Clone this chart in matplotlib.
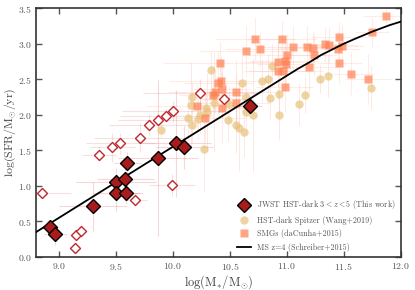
import numpy as np
import matplotlib
matplotlib.use("Agg")
import matplotlib.pyplot as plt

plt.rcParams['font.family'] = 'serif'
plt.rcParams['font.serif'] = ['cmr10']
plt.rcParams['mathtext.fontset'] = 'cm'
plt.rcParams['axes.formatter.use_mathtext'] = True

# JWST HST-dark 3<z<5 (filled diamonds)
jwst_m = [8.92, 8.97, 9.30, 9.50, 9.50, 9.58, 9.59, 9.60, 9.87, 10.03, 10.10, 10.68]
jwst_sfr = [0.42, 0.32, 0.71, 1.05, 0.90, 1.09, 0.90, 1.32, 1.39, 1.60, 1.54, 2.13]
jwst_xerr = [0.08, 0.10, 0.30, 0.35, 0.20, 0.25, 0.15, 0.12, 0.35, 0.30, 0.25, 0.10]
jwst_yerr = [0.10, 0.15, 0.35, 0.20, 0.25, 0.20, 0.15, 0.15, 1.10, 0.75, 0.30, 0.10]

# other redshift candidates (open diamonds)
open_m = [8.855, 9.15, 9.195, 9.14, 9.35, 9.47, 9.54, 9.67, 9.99, 9.71, 9.79,
          9.87, 9.94, 10.00, 10.24, 10.45]
open_sfr = [0.90, 0.31, 0.37, 0.13, 1.44, 1.54, 1.60, 0.80, 1.01, 1.68, 1.86,
            1.92, 1.98, 2.05, 2.30, 2.22]
open_xerr = [0.25, 0.05, 0.06, 0.05, 0.15, 0.20, 0.30, 0.10, 0.20, 0.40, 0.35,
             0.35, 0.40, 0.45, 0.50, 0.20]
open_yerr = [0.05, 0.08, 0.10, 0.05, 0.10, 0.20, 0.15, 0.10, 0.15, 0.20, 0.15,
             0.10, 0.10, 0.15, 0.20, 0.15]

# HST-dark Spitzer (Wang+2019)
wang_m = [9.90, 10.13, 10.17, 10.17, 10.16, 10.22, 10.24, 10.29, 10.30, 10.33,
          10.27, 10.36, 10.36, 10.49, 10.48, 10.55, 10.58, 10.62, 10.64, 10.64,
          10.61, 10.70, 10.78, 10.83, 10.87, 10.85, 10.93, 10.93, 11.11, 11.16,
          11.29, 11.36, 11.74]
wang_sfr = [1.78, 1.95, 1.85, 2.25, 2.14, 1.94, 1.99, 2.10, 2.04, 2.63,
            1.52, 2.28, 2.17, 2.15, 1.93, 1.86, 1.81, 1.76, 2.04, 2.25,
            2.44, 2.00, 2.48, 2.50, 2.69, 2.23, 2.29, 2.00, 2.15, 2.28,
            2.50, 2.55, 2.38]
wang_yerr = [0.10, 0.30, 0.25, 0.20, 0.60, 0.30, 0.25, 0.20, 0.55, 0.25,
             0.60, 0.20, 0.70, 0.25, 0.30, 0.40, 0.60, 0.35, 0.30, 0.25,
             0.40, 0.80, 0.30, 0.35, 0.30, 0.30, 0.25, 0.35, 0.30, 0.25,
             0.20, 0.30, 0.30]

# SMGs (daCunha+2015)
smg_m = [10.21, 10.28, 10.355, 10.37, 10.40, 10.42, 10.43, 10.43, 10.41, 10.55,
         10.55, 10.64, 10.72, 10.76, 10.92, 10.92, 10.97, 10.98, 10.99, 11.005,
         10.96, 10.98, 11.05, 11.18, 11.23, 11.24, 11.19, 11.335, 11.37, 11.46,
         11.48, 11.445, 11.46, 11.56, 11.71, 11.75, 11.87]
smg_sfr = [2.12, 1.96, 2.28, 2.32, 2.45, 2.48, 2.36, 2.10, 2.73, 2.32,
           2.17, 2.90, 3.07, 2.92, 2.745, 2.62, 2.615, 2.755, 2.71, 2.84,
           3.07, 2.385, 2.95, 2.95, 2.935, 2.84, 2.665, 2.99, 2.98, 3.10,
           2.965, 2.92, 2.73, 2.58, 2.50, 3.16, 3.39]
smg_xerr = [0.45, 0.35, 0.30, 0.40, 0.30, 0.45, 0.25, 0.30, 0.50, 0.35,
            0.30, 0.40, 0.35, 0.30, 0.30, 0.25, 0.35, 0.30, 0.25, 0.35,
            0.30, 0.25, 0.30, 0.25, 0.30, 0.20, 0.25, 0.20, 0.25, 0.25,
            0.20, 0.20, 0.20, 0.20, 0.20, 0.15, 0.20]
smg_yerr = [0.30, 0.35, 0.40, 0.30, 0.45, 0.35, 0.40, 0.50, 0.30, 0.45,
            0.40, 0.35, 0.30, 0.25, 0.35, 0.40, 0.30, 0.35, 0.30, 0.30,
            0.25, 0.35, 0.30, 0.30, 0.25, 0.30, 0.35, 0.25, 0.25, 0.20,
            0.30, 0.25, 0.30, 0.30, 0.35, 0.20, 0.15]

# MS z=4 (Schreiber+2015)
ms_m = [8.8, 9.5, 10.0, 10.5, 11.1, 11.2, 11.3, 11.4, 11.5, 11.6, 11.75, 11.9, 12.0]
ms_sfr = [0.35, 1.05, 1.55, 2.05, 2.65, 2.74, 2.84, 2.92, 3.00, 3.07, 3.17, 3.26, 3.31]

fig = plt.figure(figsize=(4.15, 2.9), dpi=100)
ax = fig.add_axes([0.087, 0.114, 0.879, 0.858])

ax.errorbar(smg_m, smg_sfr, xerr=smg_xerr, yerr=smg_yerr, fmt='none',
            ecolor='#ffab94', alpha=0.22, lw=0.8, zorder=1)
ax.errorbar(wang_m, wang_sfr, yerr=wang_yerr, fmt='none',
            ecolor='#f5b7a8', alpha=0.3, lw=0.7, zorder=1)
ax.errorbar(open_m, open_sfr, xerr=open_xerr, yerr=open_yerr, fmt='none',
            ecolor='#e57373', alpha=0.22, lw=0.8, zorder=1)
ax.errorbar(jwst_m, jwst_sfr, xerr=jwst_xerr, yerr=jwst_yerr, fmt='none',
            ecolor='#e57373', alpha=0.28, lw=0.8, zorder=1)

ax.plot(wang_m, wang_sfr, 'o', color='#e8c27a', alpha=0.7, ms=6, mec='none',
        zorder=2, label='HST-dark Spitzer (Wang+2019)')
ax.plot(smg_m, smg_sfr, 's', color='#ff7f50', alpha=0.7, ms=5.5, mec='none',
        zorder=2, label='SMGs (daCunha+2015)')
ax.plot(open_m, open_sfr, 'D', mfc='white', mec='#c0282d', mew=1.0, ms=5,
        zorder=3)
ax.plot(ms_m, ms_sfr, '-', color='black', lw=1.3, zorder=4,
        label='MS z=4 (Schreiber+2015)')
ax.plot(jwst_m, jwst_sfr, 'D', mfc='#a81c1c', mec='black', mew=1.0, ms=7.5,
        zorder=5, label=r'JWST HST-dark $3<z<5$ (This work)')

ax.set_xlim(8.8, 12.0)
ax.set_ylim(0, 3.5)
ax.set_xticks([9.0, 9.5, 10.0, 10.5, 11.0, 11.5, 12.0])
ax.set_yticks([0.0, 0.5, 1.0, 1.5, 2.0, 2.5, 3.0, 3.5])
ax.tick_params(direction='in', top=True, right=True, length=4, width=1,
               labelsize=7, colors='#555555', pad=3)
for s in ax.spines.values():
    s.set_linewidth(1.2)
    s.set_color('#333333')

ax.set_xlabel(r'$\log(\mathrm{M}_{*}/\mathrm{M}_{\odot})$', fontsize=9, color='#444444', labelpad=1)
ax.set_ylabel(r'$\log(\mathrm{SFR}/\mathrm{M}_{\odot}/\mathrm{yr})$', fontsize=8.5, color='#444444', labelpad=0)

h, l = ax.get_legend_handles_labels()
order = [3, 0, 1, 2]
leg = ax.legend([h[i] for i in order], [l[i] for i in order], loc='lower right',
                frameon=False, fontsize=5.8, handlelength=1.7, handletextpad=0.8,
                borderaxespad=0.25, labelspacing=0.55)
for t in leg.get_texts():
    t.set_color('#555555')

plt.savefig('out.png', dpi=100)
